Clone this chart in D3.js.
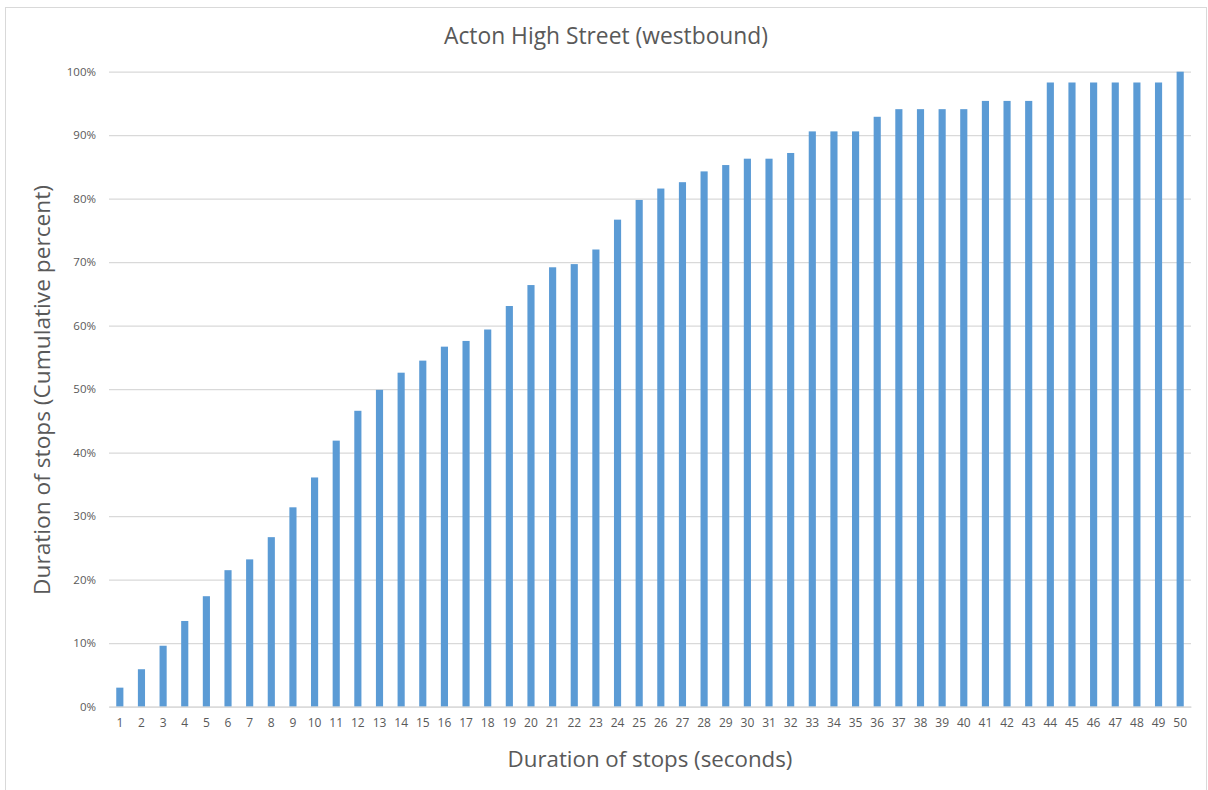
<!DOCTYPE html>
<html>
<head>
<meta charset="utf-8">
<script src="https://cdn.jsdelivr.net/npm/d3@7"></script>
<style>
html,body{margin:0;padding:0;background:#fff;}
svg{display:block;font-family:"Open Sans",Lato,sans-serif;}
</style>
</head>
<body>
<svg id="chart" width="1208" height="790"></svg>
<script>
const titleText = "Acton High Street (westbound)";
const xTitle = "Duration of stops (seconds)";
const yTitle = "Duration of stops (Cumulative percent)";
const categories = d3.range(1, 51).map(String);
const values = [3.0,5.9,9.6,13.5,17.4,21.5,23.2,26.7,31.4,36.1,
  41.9,46.6,49.9,52.6,54.5,56.7,57.6,59.4,63.1,66.4,
  69.2,69.7,72.0,76.7,79.8,81.6,82.6,84.3,85.3,86.3,
  86.3,87.2,90.6,90.6,90.6,92.9,94.1,94.1,94.1,94.1,
  95.4,95.4,95.4,98.3,98.3,98.3,98.3,98.3,98.3,100];
const yTicks = [0,10,20,30,40,50,60,70,80,90,100];

const svg = d3.select("#chart");
const m = {left:109, right:1191, top:71.7, bottom:706.7};

svg.append("rect").attr("x",5.5).attr("y",7.5).attr("width",1201).attr("height",800)
  .attr("fill","#fff").attr("stroke","#d9d9d9").attr("stroke-width",1);

const x = d3.scaleBand().domain(categories).range([m.left, m.right]).paddingInner(0.67).paddingOuter(0.335);
const y = d3.scaleLinear().domain([0,100]).range([m.bottom, m.top]);

// gridlines + y labels
const gAxisY = svg.append("g").attr("transform",`translate(${m.left},0)`)
  .call(d3.axisLeft(y).tickValues(yTicks).tickFormat(d=>d+"%").tickSize(-(m.right-m.left)).tickPadding(13));
gAxisY.select(".domain").remove();
gAxisY.selectAll(".tick line").attr("stroke","#d9d9d9").attr("stroke-width",1.3);
gAxisY.selectAll(".tick text").attr("fill","#595959").attr("font-size","11.5px").attr("font-family","'Open Sans', sans-serif");

// bars
svg.append("g").selectAll("rect").data(values).join("rect")
  .attr("x",(d,i)=>x(categories[i]))
  .attr("width",x.bandwidth())
  .attr("y",d=>y(d))
  .attr("height",d=>y(0)-y(d))
  .attr("fill","#5b9bd5");

// x axis
const gAxisX = svg.append("g").attr("transform",`translate(0,${m.bottom})`)
  .call(d3.axisBottom(x).tickSize(0).tickPadding(12));
gAxisX.select(".domain").attr("stroke","#d9d9d9").attr("stroke-width",1.3);
gAxisX.selectAll(".tick text").attr("fill","#595959").attr("font-size","12px").attr("font-family","'Open Sans', sans-serif");

// titles
svg.append("text").attr("x",606).attr("y",44).attr("text-anchor","middle")
  .attr("fill","#595959").attr("font-size","22.8px").text(titleText);
svg.append("text").attr("x",650).attr("y",767).attr("text-anchor","middle")
  .attr("fill","#595959").attr("font-size","22.3px").text(xTitle);
svg.append("text").attr("transform",`translate(50,390) rotate(-90)`).attr("text-anchor","middle")
  .attr("fill","#595959").attr("font-size","22.7px").text(yTitle);
</script>
</body>
</html>
